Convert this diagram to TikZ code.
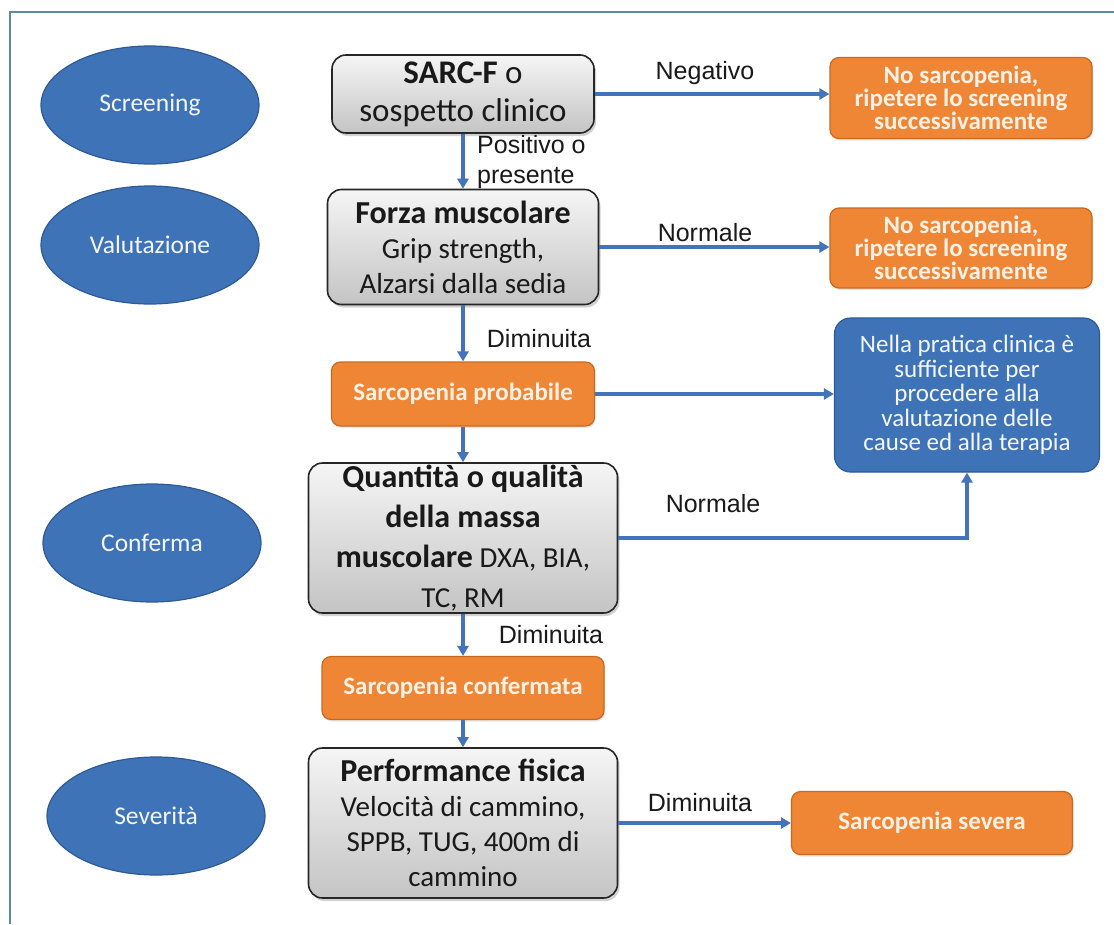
\documentclass[tikz,border=0pt]{standalone}
\usepackage{fontspec}
\setmainfont{Carlito}
\newfontfamily\arialf{Liberation Sans}
\usetikzlibrary{shapes.geometric,arrows.meta,shadows}
\definecolor{ellblue}{HTML}{3F73B8}
\definecolor{ellborder}{HTML}{2E5A94}
\definecolor{orng}{HTML}{EE8636}
\definecolor{orngborder}{HTML}{C9691F}
\definecolor{arrowblue}{HTML}{4174BA}
\definecolor{framec}{HTML}{5E8C92}
\definecolor{boxtop}{HTML}{F5F5F5}
\definecolor{boxbot}{HTML}{C4C4C4}
\definecolor{paletxt}{HTML}{F3F6FB}
\definecolor{orngtxt}{HTML}{FDF1E6}
\newcommand{\titf}{\fontsize{32}{40}\selectfont\bfseries}
\tikzset{
  phase/.style={ellipse, draw=ellborder, line width=1.2pt, fill=ellblue,
    minimum width=218pt, minimum height=118pt, inner sep=0pt, text=paletxt,
    font=\fontsize{25.5}{30}\selectfont},
  graybox/.style={draw=black!85, line width=1.6pt, rounded corners=14pt,
    top color=boxtop, bottom color=boxbot,
    drop shadow={shadow xshift=2pt, shadow yshift=-3pt, opacity=0.35},
    align=center, inner sep=0pt, text=black!90},
  orbox/.style={draw=orngborder, line width=1.2pt, fill=orng, rounded corners=9pt,
    drop shadow={shadow xshift=1pt, shadow yshift=-2pt, opacity=0.2},
    align=center, inner sep=0pt, text=orngtxt,
    font=\bfseries\fontsize{25}{23}\selectfont},
  infobox/.style={draw=ellborder, line width=1.2pt, fill=ellblue, rounded corners=16pt,
    align=center, inner sep=0pt, text=paletxt,
    font=\fontsize{25}{24.5}\selectfont},
  arr/.style={draw=arrowblue, line width=3.2pt, -{Triangle[length=10pt,width=11pt]}},
  lbl/.style={font=\arialf\fontsize{25}{30}\selectfont, text=black!90, inner sep=0pt}
}
\begin{document}
\begin{tikzpicture}[x=1pt,y=-1pt]
\useasboundingbox (0,0) rectangle (1114,924);
\fill[white] (0,0) rectangle (1114,924);
\draw[framec, line width=1.5pt] (10,924) -- (10,12) -- (1114,12);

% phases
\node[phase] (screening) at (150,105) {Screening};
\node[phase] (valutazione) at (150,245) {Valutazione};
\node[phase] (conferma) at (152,543) {Conferma};
\node[phase] (severita) at (156,816) {Severità};

% main column
\node[graybox, minimum width=262pt, minimum height=78pt, font=\fontsize{33}{38}\selectfont]
  (sarc) at (463,94) {{\bfseries SARC-F} o\\ sospetto clinico};
\node[graybox, minimum width=271pt, minimum height=115pt, font=\fontsize{29}{35}\selectfont]
  (forza) at (463,247) {{\titf Forza muscolare}\\ Grip strength,\\ Alzarsi dalla sedia};
\node[orbox, minimum width=263pt, minimum height=64pt] (prob) at (463,394) {Sarcopenia probabile};
\node[graybox, minimum width=309pt, minimum height=150pt, font=\fontsize{29}{40}\selectfont]
  (quant) at (463,538) {{\titf Quantità o qualità}\\ {\titf della massa}\\ {\titf muscolare} DXA, BIA,\\ TC, RM};
\node[orbox, minimum width=282pt, minimum height=63pt] (conf) at (463,688) {Sarcopenia confermata};
\node[graybox, minimum width=309pt, minimum height=150pt, font=\fontsize{29}{35}\selectfont]
  (perf) at (463,823) {{\titf Performance fisica}\\ Velocità di cammino,\\ SPPB, TUG, 400m di\\ cammino};

% right column
\node[orbox, minimum width=262pt, minimum height=81pt] (nos1) at (961,98)
  {No sarcopenia,\\ ripetere lo screening\\ successivamente};
\node[orbox, minimum width=262pt, minimum height=80pt] (nos2) at (961,248)
  {No sarcopenia,\\ ripetere lo screening\\ successivamente};
\node[infobox, minimum width=265pt, minimum height=154pt] (info) at (967,395)
  {Nella pratica clinica è\\ sufficiente per\\ procedere alla\\ valutazione delle\\ cause ed alla terapia};
\node[orbox, minimum width=281pt, minimum height=63pt] (sev) at (932,823) {Sarcopenia severa};

% connectors
\draw[arr] (sarc.east) -- (sarc.east -| nos1.west);
\draw[arr] (forza.east) -- (forza.east -| nos2.west);
\draw[arr] (prob.east) -- (prob.east -| info.west);
\draw[arr] (perf.east) -- (perf.east -| sev.west);
\draw[arr] (sarc.south) -- (forza.north);
\draw[arr] (forza.south) -- (prob.north);
\draw[arr] (prob.south) -- (quant.north);
\draw[arr] (quant.south) -- (conf.north);
\draw[arr] (conf.south) -- (perf.north);
\coordinate (bend) at (info.south |- quant.east);
\draw[arr] (quant.east) -- (bend) -- (info.south);

% labels
\node[lbl] (lneg) at (705,73) {Negativo};
\node[lbl, anchor=west, align=left] (lpos) at (477,162) {Positivo o\\ presente};
\node[lbl] (lnorm1) at (705,233) {Normale};
\node[lbl] (ldim1) at (539,339) {Diminuita};
\node[lbl] (lnorm2) at (713,504) {Normale};
\node[lbl] (ldim2) at (551,635) {Diminuita};
\node[lbl] (ldim3) at (700,803) {Diminuita};
\end{tikzpicture}
\end{document}
